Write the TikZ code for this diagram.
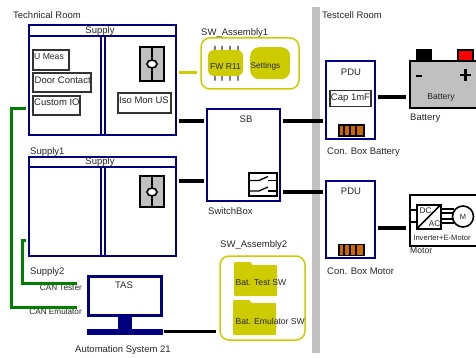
\documentclass[tikz,border=0pt]{standalone}
\usepackage{fontspec}
\setmainfont{Liberation Sans}
\definecolor{framenavy}{HTML}{000080}
\definecolor{swyellow}{HTML}{CCCC00}
\definecolor{cangreen}{HTML}{008000}
\definecolor{bargray}{HTML}{C0C0C0}
\definecolor{pinorange}{HTML}{CC6600}
\tikzset{
  frame/.style={draw=framenavy,line width=2pt,anchor=north west,inner sep=0pt,outer sep=0pt},
  divider/.style={framenavy,line width=2pt},
  textbox/.style={draw=black!80,line width=1.4pt,fill=white,anchor=north west,inner sep=0pt,outer sep=0pt},
  softbox/.style={draw=swyellow,line width=1.5pt,rounded corners=9pt,anchor=north west,inner sep=0pt,outer sep=0pt},
  lbl/.style={anchor=west,inner sep=0pt,font=\fontsize{9.5}{11}\selectfont,text=black!85},
  tiny/.style={inner sep=0pt,font=\fontsize{8.2}{10}\selectfont,text=black!85},
  powerline/.style={line width=3.4pt,black},
  canline/.style={line width=3pt,cangreen},
}
\begin{document}
\begin{tikzpicture}[x=1pt,y=-1pt]

    \useasboundingbox (0,0) rectangle (476,358);
    \clip (0,0) rectangle (476,358);

    % Room divider
    \fill[bargray] (312,7) rectangle (319.5,353);
    \node[lbl] (technical) at (13,15) {Technical Room};
    \node[lbl] (testcell) at (322,15) {Testcell Room};

    % Supply
    \node[frame,minimum width=147pt,minimum height=110pt] (supply) at (29,25) {};
    \draw[divider] (29,36) -- (176,36);
    \draw[divider] (101,36) -- (101,135);
    \draw[divider] (105,36) -- (105,135);
    \node[lbl,anchor=center] (supplyname) at (100,31.5) {Supply};
    \node[textbox,minimum width=36pt,minimum height=20pt] (umeas) at (33,50) {};
    \node[textbox,minimum width=58pt,minimum height=19pt] (door) at (33,73) {};
    \node[textbox,minimum width=47pt,minimum height=19pt] (custom) at (33,96) {};
    \node[textbox,minimum width=53pt,minimum height=20pt] (isomon) at (118,93) {};
    \node[tiny,anchor=west,font=\fontsize{8.6}{10}\selectfont] (umeastext) at (34,57) {U Meas};
    \node[lbl,anchor=west] (doortext) at (34.5,80) {Door Contact};
    \node[lbl,anchor=west] (customtext) at (34,102.5) {Custom IO};
    \node[lbl,anchor=west] (isomontext) at (119,100) {Iso Mon US};

    % Main switch of Supply
    \draw[fill=bargray,line width=2pt] (139.5,47.5) rectangle (164,81);
    \draw[line width=1.6pt] (152,47.5) -- (152,81);
    \draw[fill=white,line width=1.6pt] (152,64) ellipse (5 and 4);

    % Supply1
    \node[lbl] (supplyone) at (30,152) {Supply1};
    \node[frame,minimum width=147pt,minimum height=99pt] (supplyb) at (29,157) {};
    \draw[divider] (29,167) -- (176,167);
    \draw[divider] (101,167) -- (101,256);
    \draw[divider] (105,167) -- (105,256);
    \node[lbl,anchor=center] (supplybname) at (100,162.5) {Supply};
    \draw[fill=bargray,line width=2pt] (139.5,176.5) rectangle (164,207);
    \draw[line width=1.6pt] (152,176.5) -- (152,207);
    \draw[fill=white,line width=1.6pt] (152,192) ellipse (5 and 4);
    \node[lbl] (supplytwo) at (30,272) {Supply2};

    % SW_Assembly1
    \node[lbl] (swaone) at (201,33) {SW\_Assembly1};
    \node[softbox,minimum width=98pt,minimum height=51pt] (swabox) at (201,38) {};
    \foreach \px in {215,222,230,238} {
        \draw[gray,line width=2.2pt,line cap=round] (\px,46.5) -- (\px,80);
    }
    \fill[swyellow,rounded corners=6pt] (208,50) rectangle (243,76);
    \node[tiny,anchor=center,font=\fontsize{8.6}{10}\selectfont] (fwrtext) at (225.5,67) {FW R11};
    \node[fill=swyellow,rounded corners=9pt,minimum width=40pt,minimum height=32pt,anchor=north west,inner sep=0pt] (settings) at (250,47) {};
    \node[tiny,anchor=west] (settingstext) at (250.5,66) {Settings};

    % SB
    \node[frame,minimum width=73pt,minimum height=92pt] (sb) at (207,109) {};
    \node[lbl,anchor=center] (sbname) at (246,119) {SB};
    \node[lbl] (switchbox) at (208,211) {SwitchBox};
    \draw[line width=1.8pt] (249,173) rectangle (277,196);
    \draw[line width=1.3pt] (249,180.5) -- (259,180.5) -- (268,176.5);
    \draw[line width=1.3pt] (268,180.5) -- (277,180.5);
    \draw[line width=1.3pt] (249,191) -- (259,191) -- (268,187);
    \draw[line width=1.3pt] (268,191) -- (277,191);

    % PDU of the battery
    \node[frame,minimum width=49pt,minimum height=78pt] (pdua) at (326,61) {};
    \node[lbl,anchor=center] (pduaname) at (351,72) {PDU};
    \node[textbox,minimum width=41pt,minimum height=16pt] (cap) at (330,90.5) {};
    \node[lbl,anchor=center] (captext) at (350.5,98) {Cap 1mF};
    \node[draw,fill=pinorange,line width=1.6pt,minimum width=25pt,minimum height=11pt,anchor=north west,inner sep=0pt] (pinsa) at (338,124.5) {};
    \foreach \px in {344,350,356} {
        \draw[line width=1.3pt] (\px,124.5) -- (\px,135.5);
    }
    \node[lbl] (conbattery) at (327,152) {Con. Box Battery};

    % Battery
    \draw[fill=bargray,line width=2pt] (410,61) rectangle (480,108);
    \fill (416,49) rectangle (432,61);
    \draw[fill=red,line width=1.6pt] (458,50) rectangle (473,61);
    \draw[line width=2.4pt] (416,76) -- (422,76);
    \draw[line width=2.4pt] (460,75) -- (471,75) (465.5,69) -- (465.5,81);
    \node[tiny,anchor=center,font=\fontsize{8.6}{10}\selectfont] (batterytext) at (441,97) {Battery};
    \node[lbl] (battery) at (410,118) {Battery};

    % PDU of the motor
    \node[frame,minimum width=49pt,minimum height=77pt] (pdub) at (326,181) {};
    \node[lbl,anchor=center] (pdubname) at (351,191) {PDU};
    \node[draw,fill=pinorange,line width=1.6pt,minimum width=25pt,minimum height=11pt,anchor=north west,inner sep=0pt] (pinsb) at (338,243.5) {};
    \foreach \px in {344,350,356} {
        \draw[line width=1.3pt] (\px,243.5) -- (\px,254.5);
    }
    \node[lbl] (conmotor) at (327,271) {Con. Box Motor};

    % Motor
    \draw[line width=2pt] (480,195) -- (410,195) -- (410,246) -- (480,246);
    \draw[line width=1.3pt] (410,210) -- (417,210) (410,222) -- (417,222);
    \draw[line width=1.3pt] (441,209) -- (454,209) (441,213) -- (453,213);
    \draw[line width=1.3pt] (441,219) -- (453,219) (441,223) -- (454,223);
    \node[draw,line width=2pt,minimum width=24pt,minimum height=24pt,anchor=north west,inner sep=0pt,outer sep=0pt] (inverter) at (417,204.5) {};
    \draw[line width=1.6pt] (inverter.south west) -- (inverter.north east);
    \node[tiny,anchor=center] (dctext) at (425.5,210.5) {DC};
    \node[tiny,anchor=center] (actext) at (434.5,224) {AC};
    \node[draw,circle,fill=white,line width=1.6pt,minimum size=21pt,inner sep=0pt] (emotor) at (463,216.5) {};
    \node[tiny,anchor=center,font=\fontsize{7.5}{9}\selectfont] (mtext) at (463,216.5) {M};
    \node[tiny,anchor=center,font=\fontsize{7.6}{9}\selectfont] (invertertext) at (442,238) {Inverter+E-Motor};
    \node[tiny,anchor=west,font=\fontsize{8.6}{10}\selectfont] (motor) at (410,251) {Motor};

    % SW_Assembly2
    \node[lbl] (swatwo) at (220,245) {SW\_Assembly2};
    \node[softbox,minimum width=85pt,minimum height=84pt] (swbbox) at (220,256) {};
    \fill[swyellow,rounded corners=1pt] (234,296) -- (234,262) -- (251,262) -- (252,265) -- (277,265) -- (277,296) -- cycle;
    \fill[swyellow,rounded corners=1pt] (233,335) -- (233,300) -- (250,300) -- (251,303) -- (276,303) -- (276,335) -- cycle;
    \node[tiny,anchor=west,font=\fontsize{8.6}{10}\selectfont] (testtext) at (235.5,283) {Bat. Test SW};
    \node[tiny,anchor=west,font=\fontsize{8.6}{10}\selectfont] (emutext) at (235.5,321.5) {Bat. Emulator SW};

    % TAS
    \node[frame,line width=3.4pt,minimum width=73pt,minimum height=39pt] (tas) at (88.5,276.5) {};
    \node[lbl,anchor=center] (tastext) at (124,285) {TAS};
    \fill[framenavy] (118,315) rectangle (132,330);
    \node[fill=framenavy,minimum width=76pt,minimum height=5.5pt,anchor=north west,inner sep=0pt,outer sep=0pt] (tasbase) at (87,329) {};
    \node[lbl,anchor=center] (automation) at (123,350) {Automation System 21};
    \node[tiny,anchor=east] (cantester) at (82,288) {CAN Tester};
    \node[tiny,anchor=east] (canemulator) at (82,312) {CAN Emulator};

    % Points where the wires leave the boxes
    \coordinate (swwire) at (0,73);
    \coordinate (sbwirea) at (0,121);
    \coordinate (sbwireb) at (0,181);
    \coordinate (pduwirea) at (0,121);
    \coordinate (pduwireb) at (0,192);
    \coordinate (batwire) at (0,97);
    \coordinate (motwire) at (0,228);
    \coordinate (tasend) at (77,283);
    \coordinate (emuend) at (77,307);
    \coordinate (tascorner) at (22,240);
    \coordinate (emucorner) at (11,109);

    % Wires
    \draw[swyellow,line width=3pt,shorten <=3pt,shorten >=4pt] (supply.east |- swwire) -- (swabox.west |- swwire);
    \draw[powerline,shorten <=3pt,shorten >=3pt] (supply.east |- sbwirea) -- (sb.west |- sbwirea);
    \draw[powerline,shorten <=3pt,shorten >=3pt] (supplyb.east |- sbwireb) -- (sb.west |- sbwireb);
    \draw[powerline,shorten <=3pt,shorten >=3pt] (sb.east |- pduwirea) -- (pdua.west |- pduwirea);
    \draw[powerline,shorten <=3pt,shorten >=3pt] (sb.east |- pduwireb) -- (pdub.west |- pduwireb);
    \draw[powerline,shorten <=3pt,shorten >=4pt] (pdua.east |- batwire) -- (410,97);
    \draw[powerline,shorten <=3pt,shorten >=4pt] (pdub.east |- motwire) -- (410,228);
    \draw[powerline,shorten <=1pt,shorten >=4pt] (tasbase.east) -- (swbbox.west |- tasbase.east);
    \draw[canline] (26,109) -- (emucorner) -- (11,307) -- (emuend);
    \draw[canline] (26,240) -- (tascorner) -- (22,283) -- (tasend);

\end{tikzpicture}
\end{document}
